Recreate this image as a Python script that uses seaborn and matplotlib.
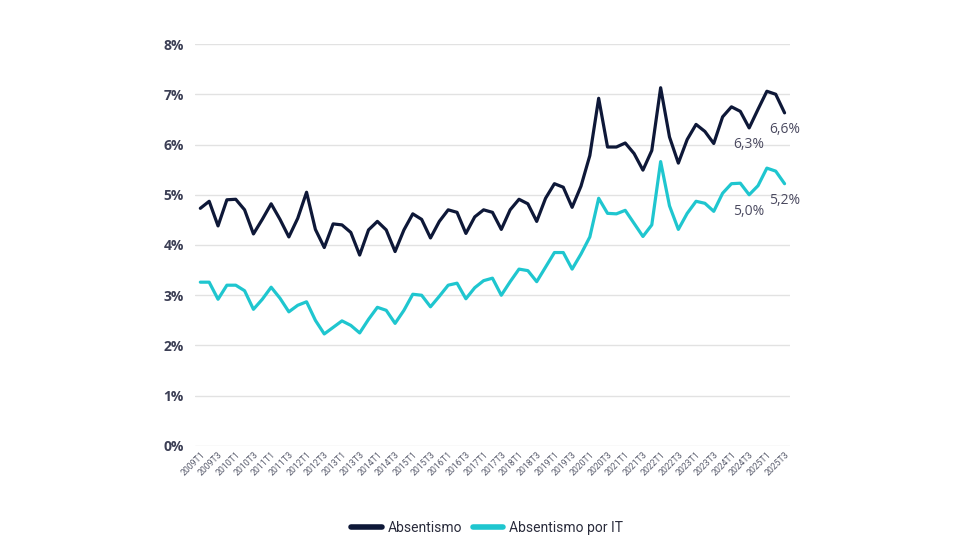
import matplotlib
matplotlib.use("Agg")
import matplotlib.pyplot as plt
import seaborn as sns
import pandas as pd

# quarters 2009T1 .. 2025T3
years = list(range(2009, 2026))
quarters = [f"{y}T{q}" for y in years for q in range(1, 5)][:67]

absentismo = [
    4.73, 4.87, 4.38, 4.90, 4.91, 4.70, 4.22, 4.51, 4.82, 4.51, 4.16, 4.53,
    5.05, 4.31, 3.95, 4.42, 4.40, 4.25, 3.80, 4.30, 4.47, 4.30, 3.87, 4.30,
    4.62, 4.51, 4.14, 4.47, 4.70, 4.65, 4.23, 4.56, 4.70, 4.65, 4.31, 4.70,
    4.91, 4.82, 4.47, 4.93, 5.22, 5.15, 4.75, 5.17, 5.78, 6.92, 5.95, 5.95,
    6.03, 5.82, 5.49, 5.88, 7.13, 6.15, 5.63, 6.10, 6.40, 6.26, 6.02, 6.55,
    6.75, 6.66, 6.33, 6.70, 7.06, 7.00, 6.63,
]
absentismo_it = [
    3.26, 3.26, 2.92, 3.20, 3.20, 3.09, 2.72, 2.92, 3.16, 2.94, 2.67, 2.80,
    2.87, 2.50, 2.23, 2.36, 2.49, 2.40, 2.25, 2.52, 2.76, 2.70, 2.44, 2.70,
    3.02, 3.00, 2.77, 2.98, 3.20, 3.24, 2.93, 3.15, 3.29, 3.34, 3.00, 3.27,
    3.52, 3.49, 3.27, 3.56, 3.85, 3.85, 3.52, 3.82, 4.16, 4.93, 4.63, 4.62,
    4.69, 4.43, 4.17, 4.40, 5.66, 4.78, 4.31, 4.63, 4.87, 4.83, 4.67, 5.03,
    5.22, 5.23, 5.00, 5.18, 5.53, 5.47, 5.22,
]

series_names = ["Absentismo", "Absentismo por IT"]
palette = {"Absentismo": "#0e1838", "Absentismo por IT": "#1fc6cf"}

# labelled points: (series, quarter index, text)
labels = [
    ("Absentismo", 62, "6,3%"),
    ("Absentismo", 66, "6,6%"),
    ("Absentismo por IT", 62, "5,0%"),
    ("Absentismo por IT", 66, "5,2%"),
]

df = pd.DataFrame({
    "idx": list(range(len(quarters))) * 2,
    "valor": absentismo + absentismo_it,
    "serie": [series_names[0]] * len(quarters) + [series_names[1]] * len(quarters),
})

sns.set_theme(style="white")
plt.rcParams["font.family"] = ["Roboto", "DejaVu Sans"]

fig = plt.figure(figsize=(9.8, 5.6), dpi=100)
ax = fig.add_axes([0.199, 0.2036, 0.607, 0.7178])

sns.lineplot(data=df, x="idx", y="valor", hue="serie", palette=palette,
             linewidth=2.3, ax=ax, legend=False)

ax.set_xlim(-0.6, len(quarters) - 1 + 0.6)
ax.set_ylim(0, 8)
ax.set_yticks(range(0, 9))
ax.set_yticklabels([f"{v}%" for v in range(0, 9)], fontsize=10,
                   color="#3c3f55", fontweight="bold", family=["Open Sans", "DejaVu Sans"])
ax.yaxis.grid(True, color="#e2e2e2", linewidth=1)
ax.set_axisbelow(True)
for s in ax.spines.values():
    s.set_visible(False)
ax.tick_params(axis="y", length=0, pad=8)

ax.set_xticks(range(0, len(quarters), 2))
ax.set_xticklabels(quarters[::2], rotation=45, ha="right", rotation_mode="anchor",
                   fontsize=6.3, color="#5a5d6e")
ax.tick_params(axis="x", length=0, pad=3)
ax.set_xlabel("")
ax.set_ylabel("")

vals = {"Absentismo": absentismo, "Absentismo por IT": absentismo_it}
for name, i, txt in labels:
    ax.annotate(txt, (i, vals[name][i]), xytext=(0, -6.5), textcoords="offset points",
                ha="center", va="top", fontsize=10, color="#4b4a60",
                family=["Open Sans", "DejaVu Sans"])

handles = [plt.Line2D([0], [0], color=palette[n], linewidth=4) for n in series_names]
fig.legend(handles, series_names, loc="center", bbox_to_anchor=(0.497, 0.057),
           ncol=2, frameon=False, fontsize=10, handlelength=2.2,
           handletextpad=0.4, columnspacing=0.8, labelcolor="#2a2c3c")

fig.savefig("out.png", dpi=100)
